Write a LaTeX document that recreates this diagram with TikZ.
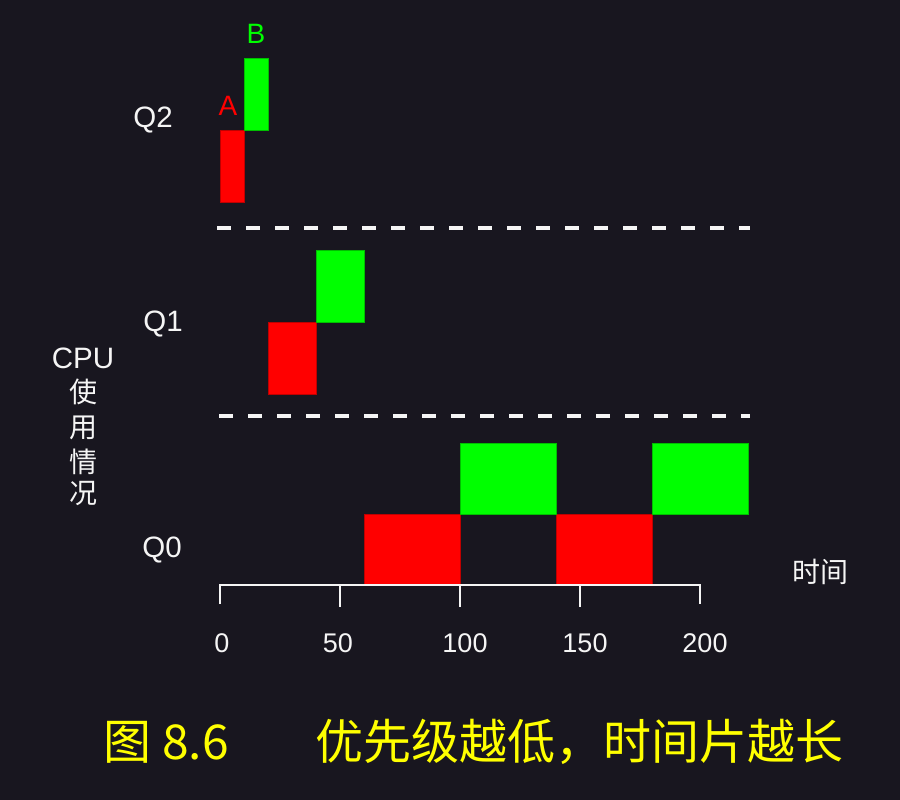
\documentclass[tikz,border=0pt]{standalone}
\usepackage{fontspec}
\setmainfont{Liberation Sans}
\newfontfamily\cjk{Noto Sans CJK SC}
\definecolor{bg}{RGB}{24,22,31}
\definecolor{fgw}{RGB}{245,245,245}
\definecolor{pred}{RGB}{255,0,0}
\definecolor{pgreen}{RGB}{0,255,0}
\definecolor{capy}{RGB}{255,255,0}
\begin{document}
\begin{tikzpicture}[x=1pt,y=-1pt,
  lbl/.style={text=fgw,font=\fontsize{29.5}{29.5}\selectfont,inner sep=0pt,anchor=center},
  cjklbl/.style={text=fgw,font=\cjk\fontsize{28}{28}\selectfont,inner sep=0pt,anchor=center},
  ticklbl/.style={text=fgw,font=\fontsize{27}{27}\selectfont,inner sep=0pt,anchor=center},
  redblk/.style={fill=pred,draw=pred!75!black,line width=0.8pt},
  greenblk/.style={fill=pgreen,draw=pgreen!75!black,line width=0.8pt},
  dashline/.style={draw=fgw,line width=4pt,dash pattern=on 14pt off 15pt},
  axisline/.style={draw=fgw,line width=2pt},
  captxt/.style={text=capy,font=\cjk\fontsize{48}{48}\selectfont,inner sep=0pt,anchor=center}]
\fill[bg] (0,0) rectangle (900,800);
\useasboundingbox (0,0) rectangle (900,800);

% Q2 blocks
\draw[redblk] (220,130) rectangle (244,202);
\draw[greenblk] (244,58) rectangle (268,130);
\node[text=pred,font=\fontsize{28}{28}\selectfont,inner sep=0pt] (lA) at (228,106) {A};
\node[text=pgreen,font=\fontsize{28}{28}\selectfont,inner sep=0pt] (lB) at (256,34) {B};

% Q1 blocks
\draw[redblk] (268,322) rectangle (316,394);
\draw[greenblk] (316,250) rectangle (364,322);

% Q0 blocks
\draw[redblk] (364,514) rectangle (460,585);
\draw[redblk] (556,514) rectangle (652,585);
\draw[greenblk] (460,443) rectangle (556,514);
\draw[greenblk] (652,443) rectangle (748,514);

% dashed separators
\coordinate (d1a) at (217,228);
\coordinate (d1b) at (750,228);
\coordinate (d2a) at (219,416);
\coordinate (d2b) at (750,416);
\draw[dashline] (d1a) -- (d1b);
\draw[dashline] (d2a) -- (d2b);

% queue labels
\node[lbl] (q2) at (153,120) {Q2};
\node[lbl] (q1) at (163,324) {Q1};
\node[lbl] (q0) at (162,550) {Q0};

% y label
\node[lbl] (cpu) at (83,358) {CPU};
\node[cjklbl] (c1) at (83,392) {使};
\node[cjklbl] (c2) at (83,428) {用};
\node[cjklbl] (c3) at (83,462) {情};
\node[cjklbl] (c4) at (83,494) {况};

% time axis
\coordinate (a0) at (220,604);
\coordinate (a0t) at (220,585);
\coordinate (a200t) at (700,585);
\coordinate (a200) at (700,604);
\draw[axisline] (a0) -- (a0t) -- (a200t) -- (a200);
\foreach \x in {340,460,580} {
  \draw[axisline] (\x,585) -- (\x,607);
}
\node[ticklbl] (t0) at (222,643) {0};
\node[ticklbl] (t50) at (338,643) {50};
\node[ticklbl] (t100) at (465,643) {100};
\node[ticklbl] (t150) at (585,643) {150};
\node[ticklbl] (t200) at (705,643) {200};
\node[cjklbl] (time) at (820,572) {时间};

% caption
\node[captxt] (cap1) at (166,742) {图 8.6};
\node[captxt] (cap2) at (579,742) {优先级越低，时间片越长};
\end{tikzpicture}
\end{document}
